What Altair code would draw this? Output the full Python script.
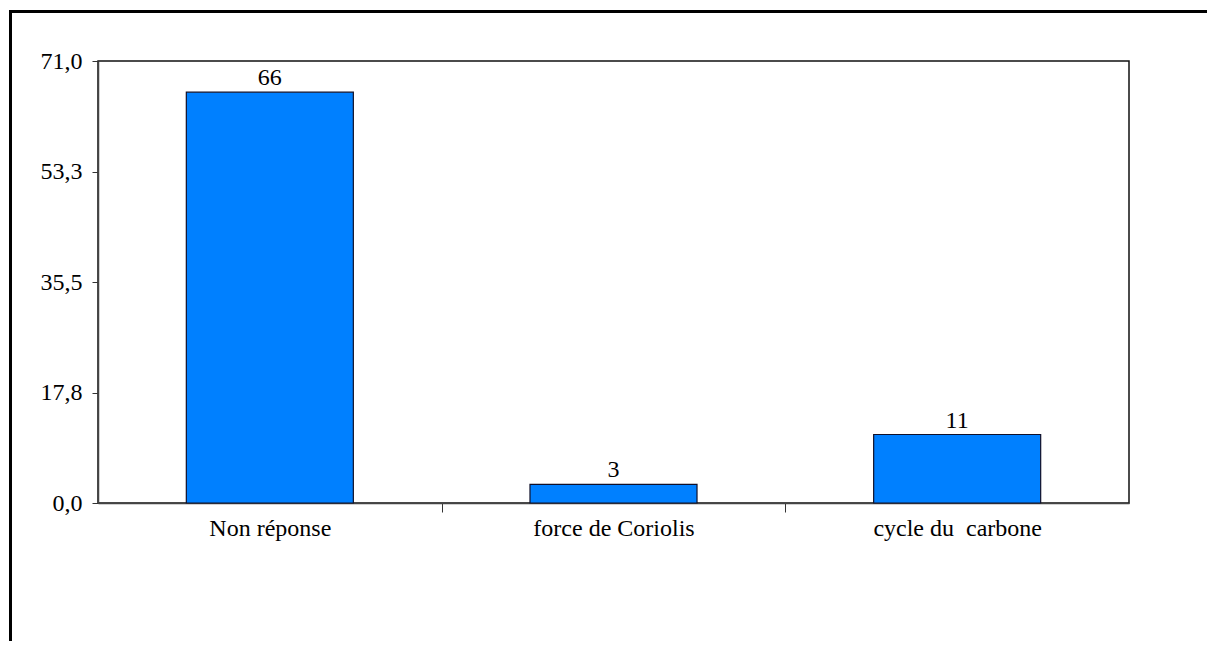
import altair as alt
import pandas as pd

categories = ["Non réponse", "force de Coriolis", "cycle du\u00a0 carbone"]
values = [66, 3, 11]
y_ticks = [0, 17.75, 35.5, 53.25, 71]

df = pd.DataFrame({"cat": categories, "val": values})

FONT = "Liberation Serif"
FS = 24

x_enc = alt.X(
    "cat:N",
    sort=categories,
    title=None,
    scale=alt.Scale(paddingInner=0, paddingOuter=0),
    axis=alt.Axis(
        labelAngle=0,
        labelFont=FONT,
        labelFontSize=FS,
        labelColor="black",
        labelPadding=4,
        tickBand="extent",
        tickSize=9,
        tickColor="#333333",
        tickOpacity={"condition": {"test": "datum.index < 0 || datum.index >= 1", "value": 0}, "value": 1},
        domainColor="#444444",
        domainWidth=1.5,
        grid=False,
    ),
)
y_enc = alt.Y(
    "val:Q",
    title=None,
    scale=alt.Scale(domain=[0, 71], nice=False),
    axis=alt.Axis(
        values=y_ticks,
        labelExpr="replace(format(datum.value, '.1f'), '.', ',')",
        labelFont=FONT,
        labelFontSize=FS,
        labelColor="black",
        labelPadding=10,
        tickSize=6,
        tickColor="#333333",
        domainColor="#444444",
        domainWidth=1.5,
        grid=False,
    ),
)

base = alt.Chart(df)

bars = base.mark_bar(
    color="#0080ff", stroke="#10102a", strokeWidth=1.2,
    width=alt.RelativeBandSize(0.486),
).encode(x=x_enc, y=y_enc)

labels = base.mark_text(
    font=FONT, fontSize=FS, color="black", baseline="alphabetic", dy=-7
).encode(x=alt.X("cat:N", sort=categories), y=alt.Y("val:Q"), text="val:Q")

frame = alt.Chart(pd.DataFrame({"k": [0]})).mark_rect(
    fill=None, stroke="black", strokeWidth=3
).encode(
    x=alt.value(-87.5), x2=alt.value(1400),
    y=alt.value(-49.5), y2=alt.value(800),
)

chart = alt.layer(bars, labels, frame).properties(
    width=1031,
    height=442,
    background="white",
    autosize=alt.AutoSizeParams(type="none"),
    padding={"left": 90, "top": 53, "right": 78, "bottom": 138},
).configure_view(stroke="#111111", strokeWidth=1.5)

chart.save("out.html", embed_options={"renderer": "svg", "actions": False})
